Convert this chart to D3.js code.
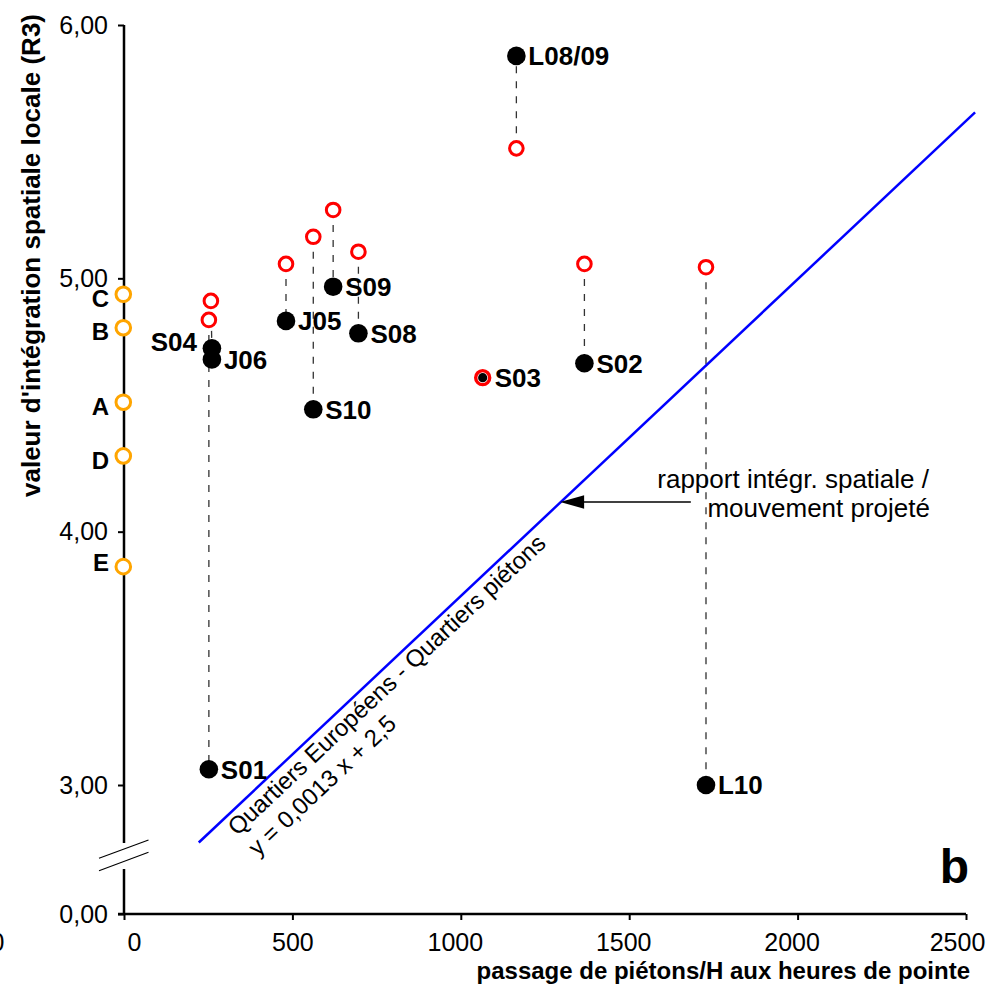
<!DOCTYPE html>
<html>
<head>
<meta charset="utf-8">
<script src="https://cdn.jsdelivr.net/npm/d3@7"></script>
<style>
  html, body { margin: 0; padding: 0; background: #fff; }
  svg { display: block; font-family: "Liberation Sans", Arial, sans-serif; }
</style>
</head>
<body>
<svg id="chart" width="992" height="994"></svg>
<script>
// ---------- data ----------
const categories   = ["L08/09", "S09", "S10", "J05", "S08", "S04", "J06", "S01", "S02", "L10", "S03"];
const pedestrians  = [1165, 621, 562, 481, 696, 261, 261, 252, 1367, 1728, 1065];
const integration  = [5.878, 4.967, 4.483, 4.832, 4.783, 4.724, 4.680, 3.062, 4.665, 3.000, 4.608];
const projectedX   = [1165, 621, 562, 481, 696, 258, null, 252, 1367, 1728, 1065];
const projectedY   = [5.513, 5.270, 5.164, 5.057, 5.105, 4.911, null, 4.836, 5.057, 5.044, 4.608];
const refLabels    = ["C", "B", "A", "D", "E"];
const refValues    = [4.937, 4.805, 4.511, 4.299, 3.862];
const regX         = [222, 2527];
const regY         = [2.773, 5.655];
const xTicks       = [0, 500, 1000, 1500, 2000, 2500];
const yTicks       = [0, 3, 4, 5, 6];
const arrowTip     = [1295, 4.117];
const arrowTail    = [1683, 4.117];

// ---------- scales ----------
const svg = d3.select("#chart");
const x = d3.scaleLinear().domain([0, 2500]).range([124, 966]);
const y = d3.scaleLinear().domain([0, 2.5, 6]).range([914, 911.67, 25]);
const fmt = d => d3.format(".2f")(d).replace(".", ",");

// ---------- axes ----------
const yAxis = svg.append("g").attr("transform", `translate(${x(0)},0)`)
  .call(d3.axisLeft(y).tickValues(yTicks).tickFormat(fmt).tickSize(6).tickPadding(10));
yAxis.select(".domain").remove();
yAxis.selectAll(".tick line").attr("stroke", "#000").attr("stroke-width", 2);
yAxis.selectAll(".tick text").attr("font-size", 25).attr("fill", "#000")
  .attr("font-family", "Liberation Sans, Arial, sans-serif");

// broken y-axis line
svg.append("line").attr("x1", x(0)).attr("x2", x(0)).attr("y1", y(6)).attr("y2", 843)
  .attr("stroke", "#000").attr("stroke-width", 2.5);
svg.append("line").attr("x1", x(0)).attr("x2", x(0)).attr("y1", 869).attr("y2", y(0))
  .attr("stroke", "#000").attr("stroke-width", 2.5);
// break marks
[[858.3, 840], [870.7, 852.3]].forEach(([a, b]) => {
  svg.append("line").attr("x1", 99).attr("y1", a).attr("x2", 148.5).attr("y2", b)
    .attr("stroke", "#000").attr("stroke-width", 1.1);
});

const xAxis = svg.append("g").attr("transform", `translate(0,${y(0)})`)
  .call(d3.axisBottom(x).tickValues(xTicks).tickFormat(d3.format("d")).tickSize(6).tickPadding(13));
xAxis.select(".domain").attr("stroke", "#000").attr("stroke-width", 2.5)
  .attr("d", `M${x(0) - 6},0H${x(2500)}`);
xAxis.selectAll(".tick line").attr("stroke", "#000").attr("stroke-width", 2);
xAxis.selectAll(".tick text").attr("font-size", 25).attr("fill", "#000")
  .attr("font-family", "Liberation Sans, Arial, sans-serif")
  .attr("dx", d => d === 0 ? 10 : d === 500 ? 0 : d === 2500 ? -9 : -6);

// stray clipped label at left edge
svg.append("text").attr("x", 4.5).attr("y", 951).attr("text-anchor", "end")
  .attr("font-size", 25).text("0");

// axis titles
svg.append("text")
  .attr("transform", `translate(40,${(8 + 503) / 2}) rotate(-90)`)
  .attr("text-anchor", "middle").attr("font-weight", "bold").attr("font-size", 26)
  .text("valeur d'intégration spatiale locale (R3)");
svg.append("text").attr("x", 970).attr("y", 979).attr("text-anchor", "end")
  .attr("font-weight", "bold").attr("font-size", 24)
  .text("passage de piétons/H aux heures de pointe");

// ---------- dashed connectors ----------
const g = svg.append("g");
categories.forEach((c, i) => {
  if (projectedX[i] == null || c === "S03") return;
  g.append("line")
    .attr("x1", x(projectedX[i])).attr("y1", y(projectedY[i]))
    .attr("x2", x(pedestrians[i])).attr("y2", y(integration[i]))
    .attr("stroke", c === "L10" ? "#777" : "#333")
    .attr("stroke-width", c === "L10" ? 2 : 1.3)
    .attr("stroke-dasharray", "7,8");
});

// ---------- regression line ----------
const rx0 = x(regX[0]), ry0 = y(regY[0]), rx1 = x(regX[1]), ry1 = y(regY[1]);
svg.append("line").attr("x1", rx0).attr("y1", ry0).attr("x2", rx1).attr("y2", ry1)
  .attr("stroke", "#0000FF").attr("stroke-width", 2.5);

const ang = Math.atan2(ry1 - ry0, rx1 - rx0);
const ux = Math.cos(ang), uy = Math.sin(ang);
const px = -uy, py = ux;
function along(a, p) { return [rx0 + ux * a + px * p, ry0 + uy * a + py * p]; }
const deg = ang * 180 / Math.PI;
const l1 = along(32, 22), l2 = along(33, 51);
svg.append("text").attr("transform", `translate(${l1[0]},${l1[1]}) rotate(${deg})`)
  .attr("font-size", 24).text("Quartiers Européens - Quartiers piétons");
svg.append("text").attr("transform", `translate(${l2[0]},${l2[1]}) rotate(${deg})`)
  .attr("font-size", 24).text("y = 0,0013 x + 2,5");

// ---------- annotation arrow ----------
const ax0 = x(arrowTail[0]), ay = y(arrowTail[1]), ax1 = x(arrowTip[0]);
svg.append("line").attr("x1", ax0).attr("y1", ay).attr("x2", ax1 + 20).attr("y2", ay)
  .attr("stroke", "#000").attr("stroke-width", 1.6);
svg.append("path").attr("d", `M${ax1},${ay}L${ax1 + 24},${ay - 6.7}L${ax1 + 24},${ay + 6.7}Z`)
  .attr("fill", "#000");
svg.append("text").attr("x", 929).attr("y", 488).attr("text-anchor", "end")
  .attr("font-size", 26).text("rapport intégr. spatiale /");
svg.append("text").attr("x", 930).attr("y", 517).attr("text-anchor", "end")
  .attr("font-size", 26).text("mouvement projeté");

// ---------- projected (red) points ----------
categories.forEach((c, i) => {
  if (projectedX[i] == null) return;
  svg.append("circle").attr("cx", x(projectedX[i])).attr("cy", y(projectedY[i]))
    .attr("r", c === "S03" ? 7 : 6.8).attr("fill", "#fff")
    .attr("stroke", "#FF0000").attr("stroke-width", c === "S03" ? 3.4 : 3);
});

// ---------- measured (black) points ----------
categories.forEach((c, i) => {
  const cx = x(pedestrians[i]), cy = y(integration[i]);
  svg.append("circle").attr("cx", cx).attr("cy", cy)
    .attr("r", c === "S03" ? 4.6 : 9.3).attr("fill", "#000");
  const t = svg.append("text").attr("font-weight", "bold").attr("font-size", 26).text(c);
  if (c === "S04") {
    t.attr("x", cx - 15).attr("y", cy - 6.6 + 9.3).attr("text-anchor", "end");
  } else {
    t.attr("x", cx + 12).attr("y", cy + 9.3);
  }
});

// ---------- reference (orange) points on the axis ----------
refLabels.forEach((lab, i) => {
  const cy = y(refValues[i]);
  svg.append("circle").attr("cx", x(0) - 0.7).attr("cy", cy).attr("r", 7.3)
    .attr("fill", "#fff").attr("stroke", "#FFA500").attr("stroke-width", 3);
  svg.append("text").attr("x", 109).attr("y", cy + (lab === "E" ? -4 : 4) + 8.6)
    .attr("text-anchor", "end").attr("font-weight", "bold").attr("font-size", 24).text(lab);
});

// ---------- panel letter ----------
svg.append("text").attr("x", 969).attr("y", 883).attr("text-anchor", "end")
  .attr("font-weight", "bold").attr("font-size", 48).text("b");
</script>
</body>
</html>
